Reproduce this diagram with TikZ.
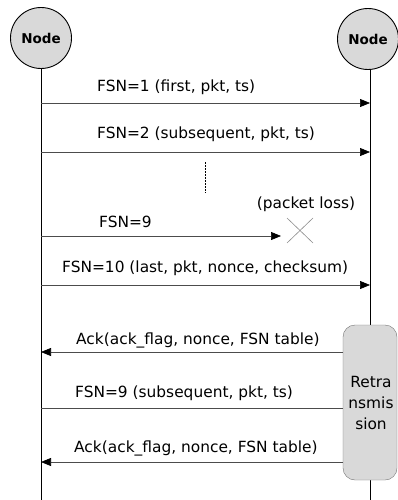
\documentclass[tikz,border=0pt]{standalone}
\usepackage{fontspec}
\setmainfont{DejaVu Sans}
\usetikzlibrary{arrows.meta,shapes.geometric}
\begin{document}
\begin{tikzpicture}[x=1pt,y=-1pt,
  actor/.style={circle,draw=black,line width=0.9pt,fill=gray!30,minimum size=61pt,inner sep=0pt,font=\bfseries\fontsize{13.5}{15}\selectfont},
  msg/.style={draw=black!70,line width=0.7pt,-{Triangle[length=10pt,width=8pt,black]}},
  lbl/.style={font=\fontsize{15.4}{18}\selectfont,inner sep=0pt,anchor=base west},
  boxtxt/.style={font=\fontsize{15.4}{21}\selectfont,inner sep=0pt,anchor=base},
  life/.style={draw=black,line width=0.9pt}]
\useasboundingbox (0,0) rectangle (398,500);
\node[actor] (A) at (41,38) {Node};
\node[actor] (B) at (368,39) {Node};
\coordinate (Aend) at (41,500);
\coordinate (Bend) at (370,500);
\draw[life] (A.south) -- (Aend);
\draw[life] (B.south -| Bend) -- (Bend);
% retransmission box
\node[draw=black!55,fill=gray!30,rounded corners=12pt,minimum width=54pt,minimum height=155pt,inner sep=0pt] (R) at (370,402.5) {};
\node[boxtxt] (Rt) at (371,387) {Retra};
\node[boxtxt] (Rt2) at (371,408) {nsmis};
\node[boxtxt] (Rt3) at (371,429) {sion};
% messages
\coordinate (a1) at (41,103); \coordinate (b1) at (370,103);
\draw[msg] (a1) -- (b1);
\node[lbl] (t1) at (97,92) {FSN=1 (first, pkt, ts)};
\coordinate (a2) at (41,152); \coordinate (b2) at (370,152);
\draw[msg] (a2) -- (b2);
\node[lbl] (t2) at (97,138) {FSN=2 (subsequent, pkt, ts)};
\coordinate (d1) at (205,162); \coordinate (d2) at (205,193);
\draw[dash pattern=on 1.5pt off 1.5pt,line width=1pt] (d1) -- (d2);
\coordinate (a3) at (41,236); \coordinate (b3) at (281,236);
\draw[msg] (a3) -- (b3);
\node[lbl] (t3) at (99,227) {FSN=9};
\node[font=\fontsize{15.4}{18}\selectfont,inner sep=0pt,anchor=base] (pl) at (306,208) {(packet loss)};
\coordinate (x1) at (287,218); \coordinate (x2) at (313,243);
\coordinate (x3) at (313,218); \coordinate (x4) at (287,243);
\draw[black!45,line width=0.6pt] (x1) -- (x2) (x3) -- (x4);
\coordinate (a4) at (41,285); \coordinate (b4) at (370,285);
\draw[msg] (a4) -- (b4);
\node[lbl] (t4) at (62,272) {FSN=10 (last, pkt, nonce, checksum)};
\coordinate (a5) at (41,352); \coordinate (b5) at (343,352);
\draw[msg] (b5) -- (a5);
\node[lbl] (t5) at (76,344) {Ack(ack\_flag, nonce, FSN table)};
\coordinate (a6) at (41,408); \coordinate (b6) at (343,408);
\draw[draw=black!70,line width=0.7pt] (a6) -- (b6);
\node[lbl] (t6) at (75,397) {FSN=9 (subsequent, pkt, ts)};
\coordinate (a7) at (41,462); \coordinate (b7) at (343,462);
\draw[msg] (b7) -- (a7);
\node[lbl] (t7) at (74,452) {Ack(ack\_flag, nonce, FSN table)};
\end{tikzpicture}
\end{document}
